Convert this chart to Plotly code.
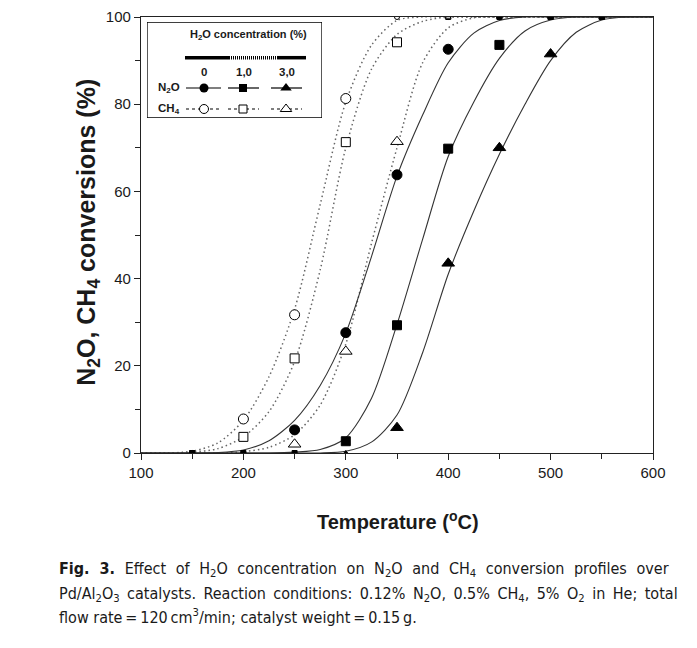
import plotly.graph_objects as go

# ---------------- data ----------------
temps = [150, 200, 250, 300, 350, 400, 450, 500, 550]
n2o_0 = [0, 0, 5.3, 27.6, 63.8, 92.6, 100, 100, 100]
n2o_1 = [0, 0, 0, 2.7, 29.3, 69.8, 93.6, 100, 100]
n2o_3 = [0, 0, 0, 0, 5.8, 43.5, 70.0, 91.5, 100]
ch4_0 = [0, 7.8, 31.7, 81.3, 100, 100, 100, 100, 100]
ch4_1 = [0, 3.7, 21.7, 71.3, 94.2, 100, 100, 100, 100]
ch4_3 = [0, 0, 2.0, 23.3, 71.4, 100, 100, 100, 100]

# fitted curves
fit_t = [100, 125, 150, 175, 200, 225, 250, 275, 300, 325, 350, 375, 400, 425, 450, 475, 500, 525, 550, 575, 600]
fit_n2o_0 = [0, 0, 0, 0.1, 0.7, 2.8, 7.5, 15.5, 27.5, 45, 63.5, 77.5, 89.5, 96.3, 99.2, 100, 100, 100, 100, 100, 100]
fit_n2o_1 = [0, 0, 0, 0, 0, 0, 0.2, 0.8, 3.5, 12.5, 29.5, 49, 68, 80.5, 90.5, 96.8, 99.3, 100, 100, 100, 100]
fit_n2o_3 = [0, 0, 0, 0, 0, 0, 0, 0, 0.4, 2.5, 8.7, 23, 41, 55.5, 68.5, 80, 90, 96.5, 99.3, 100, 100]
fit_ch4_0 = [0, 0, 0.4, 2.3, 7.5, 17.5, 33, 57, 80.5, 93.5, 99.2, 100, 100, 100, 100, 100, 100, 100, 100, 100, 100]
fit_ch4_1 = [0, 0, 0.2, 1.0, 3.7, 9.5, 21, 42, 70, 88, 96, 99, 100, 100, 100, 100, 100, 100, 100, 100, 100]
fit_ch4_3 = [0, 0, 0, 0, 0.3, 1.3, 4.2, 11, 25, 48, 70, 89.5, 97.5, 99.8, 100, 100, 100, 100, 100, 100, 100]

x_ticks = [100, 200, 300, 400, 500, 600]
y_ticks = [0, 20, 40, 60, 80, 100]
h2o_labels = ["0", "1,0", "3,0"]

FONT = "Liberation Sans, Arial, Helvetica, sans-serif"
CAP = "DejaVu Sans Condensed, Liberation Sans Narrow, Arial Narrow, sans-serif"
TXT = "#1a1a1a"

fig = go.Figure()

# fitted curves
for ys in [fit_ch4_0, fit_ch4_1, fit_ch4_3]:
    fig.add_trace(go.Scatter(x=fit_t, y=ys, mode="lines",
                             line=dict(color="#666", width=1.5, dash="1.5px,3px", shape="spline", smoothing=0.8),
                             showlegend=False, hoverinfo="skip"))
for ys in [fit_n2o_0, fit_n2o_1, fit_n2o_3]:
    fig.add_trace(go.Scatter(x=fit_t, y=ys, mode="lines",
                             line=dict(color="#333", width=1.1, shape="spline", smoothing=0.8),
                             showlegend=False, hoverinfo="skip"))


# data points (points sitting on the frame are drawn as small notches)
def pts(ys, symbol, size, filled):
    inner = [(t, v) for t, v in zip(temps, ys) if 0 < v < 100]
    edge = [(t, v) for t, v in zip(temps, ys) if v <= 0 or v >= 100]
    mk = dict(color="black" if filled else "white", line=dict(color="black", width=1))
    out = []
    if edge:
        out.append(go.Scatter(x=[p[0] for p in edge], y=[p[1] for p in edge], mode="markers", showlegend=False,
                              marker=dict(symbol=symbol, size=5, **mk)))
    out.append(go.Scatter(x=[p[0] for p in inner], y=[p[1] for p in inner], mode="markers", showlegend=False,
                          marker=dict(symbol=symbol, size=size, **mk)))
    return out


for tr in (pts(ch4_0, "circle", 10, False) + pts(ch4_1, "square", 9, False) + pts(ch4_3, "triangle-up", 11, False)
           + pts(n2o_0, "circle", 10, True) + pts(n2o_1, "square", 9, True) + pts(n2o_3, "triangle-up", 11, True)):
    fig.add_trace(tr)

# ---------------- legend (overlay axis in screen-pixel coordinates) ----------------
LX = [147, 322]
LY = [22, 118]
lx_marker = [204, 243, 286]
seg = [(186, 221), (228, 259), (271, 302)]
sym = ["circle", "square", "triangle-up"]
sz = [9, 8, 10]
for i in range(3):
    fig.add_trace(go.Scatter(x=list(seg[i]), y=[88, 88], xaxis="x2", yaxis="y2", mode="lines",
                             line=dict(color="black", width=1.2), showlegend=False, hoverinfo="skip"))
    fig.add_trace(go.Scatter(x=[lx_marker[i]], y=[88], xaxis="x2", yaxis="y2", mode="markers",
                             marker=dict(symbol=sym[i], size=sz[i], color="black"), showlegend=False, hoverinfo="skip"))
    fig.add_trace(go.Scatter(x=list(seg[i]), y=[109, 109], xaxis="x2", yaxis="y2", mode="lines",
                             line=dict(color="black", width=1.2, dash="3px,3px"), showlegend=False, hoverinfo="skip"))
    fig.add_trace(go.Scatter(x=[lx_marker[i]], y=[109], xaxis="x2", yaxis="y2", mode="markers",
                             marker=dict(symbol=sym[i], size=sz[i], color="white", line=dict(color="black", width=1)),
                             showlegend=False, hoverinfo="skip"))

fig.add_trace(go.Scatter(x=[185, 229], y=[57.7, 57.7], xaxis="x2", yaxis="y2", mode="lines",
                         line=dict(color="black", width=3.5), showlegend=False, hoverinfo="skip"))
fig.add_trace(go.Scatter(x=[229, 277], y=[57.7, 57.7], xaxis="x2", yaxis="y2", mode="lines",
                         line=dict(color="black", width=3.5, dash="1px,1px"), showlegend=False, hoverinfo="skip"))
fig.add_trace(go.Scatter(x=[277, 306], y=[57.7, 57.7], xaxis="x2", yaxis="y2", mode="lines",
                         line=dict(color="black", width=3.5), showlegend=False, hoverinfo="skip"))

fig.add_shape(type="rect", xref="x2", yref="y2", x0=LX[0], x1=LX[1], y0=LY[0], y1=LY[1],
              line=dict(color="black", width=1.3), fillcolor="white", layer="below")

ann = []
ann.append(dict(x=248, y=35, xref="x2", yref="y2", text="<b>H<sub>2</sub>O concentration (%)</b>",
                showarrow=False, font=dict(family=FONT, size=11, color=TXT)))
for i, lab in enumerate(h2o_labels):
    ann.append(dict(x=lx_marker[i] + (1 if i else 0), y=72, xref="x2", yref="y2", text="<b>" + lab + "</b>",
                    showarrow=False, font=dict(family=FONT, size=11.5, color=TXT)))
ann.append(dict(x=169, y=88, xref="x2", yref="y2", text="<b>N<sub>2</sub>O</b>", showarrow=False,
                font=dict(family=FONT, size=11.5, color=TXT)))
ann.append(dict(x=169, y=109, xref="x2", yref="y2", text="<b>CH<sub>4</sub></b>", showarrow=False,
                font=dict(family=FONT, size=11.5, color=TXT)))

# axis titles
ann.append(dict(x=-0.1035, y=0.505, xref="paper", yref="paper", xanchor="center", yanchor="middle",
                textangle=-90, text="<b>N<sub>2</sub>O, CH<sub>4</sub> conversions (%)</b>", showarrow=False,
                font=dict(family=FONT, size=25, color=TXT)))
ann.append(dict(x=0.502, y=-0.154, xref="paper", yref="paper", xanchor="center", yanchor="middle",
                text="<b>Temperature (<sup>o</sup>C)</b>", showarrow=False,
                font=dict(family=FONT, size=20, color=TXT)))

# caption (spaces widened to imitate the justified setting)
cap_lines = [
    "<b>Fig. 3.</b> Effect of H<sub>2</sub>O concentration on N<sub>2</sub>O and CH<sub>4</sub> conversion profiles over",
    "Pd/Al<sub>2</sub>O<sub>3</sub> catalysts. Reaction conditions: 0.12% N<sub>2</sub>O, 0.5% CH<sub>4</sub>, 5% O<sub>2</sub> in He; total",
    "flow rate\u2009=\u2009120\u2009cm<sup>3</sup>/min; catalyst weight\u2009=\u20090.15\u2009g.",
]
seps = [" \u2005\u200a", " \u2009", " "]
cap_y = [-0.268, -0.3234, -0.376]
for t, s, yy in zip(cap_lines, seps, cap_y):
    ann.append(dict(x=-0.164, y=yy, xref="paper", yref="paper", xanchor="left", yanchor="middle",
                    text=t.replace(" ", s), showarrow=False, font=dict(family=CAP, size=16, color=TXT)))

fig.update_layout(
    width=697, height=648,
    margin=dict(l=133, r=52, t=9, b=203, autoexpand=False),
    paper_bgcolor="white", plot_bgcolor="white",
    showlegend=False,
    annotations=ann,
    xaxis=dict(range=[100, 600], tickvals=x_ticks, ticks="outside", ticklen=6, tickwidth=1.2, tickcolor="#222",
               showline=True, linecolor="#222", linewidth=1.3, mirror=True, showgrid=False, zeroline=False,
               automargin=False,
               minor=dict(dtick=50, tick0=100, ticks="outside", ticklen=5, tickwidth=1.2, tickcolor="#222",
                          showgrid=False),
               tickfont=dict(family=FONT, size=15, color=TXT), tickprefix="<b>", ticksuffix="</b>"),
    yaxis=dict(range=[0, 100], tickvals=y_ticks, ticks="outside", ticklen=6, tickwidth=1.2, tickcolor="#222",
               showline=True, linecolor="#222", linewidth=1.3, mirror=True, showgrid=False, zeroline=False,
               automargin=False,
               minor=dict(dtick=10, tick0=0, ticks="outside", ticklen=5, tickwidth=1.2, tickcolor="#222",
                          showgrid=False),
               tickfont=dict(family=FONT, size=15, color=TXT), tickprefix="<b>", ticksuffix="</b>"),
    xaxis2=dict(domain=[(LX[0] - 141) / 512, (LX[1] - 141) / 512], range=LX, anchor="y2",
                visible=False, fixedrange=True),
    yaxis2=dict(domain=[(453 - LY[1]) / 436, (453 - LY[0]) / 436], range=[LY[1], LY[0]], anchor="x2",
                visible=False, fixedrange=True),
)

fig.write_html("out.html")
